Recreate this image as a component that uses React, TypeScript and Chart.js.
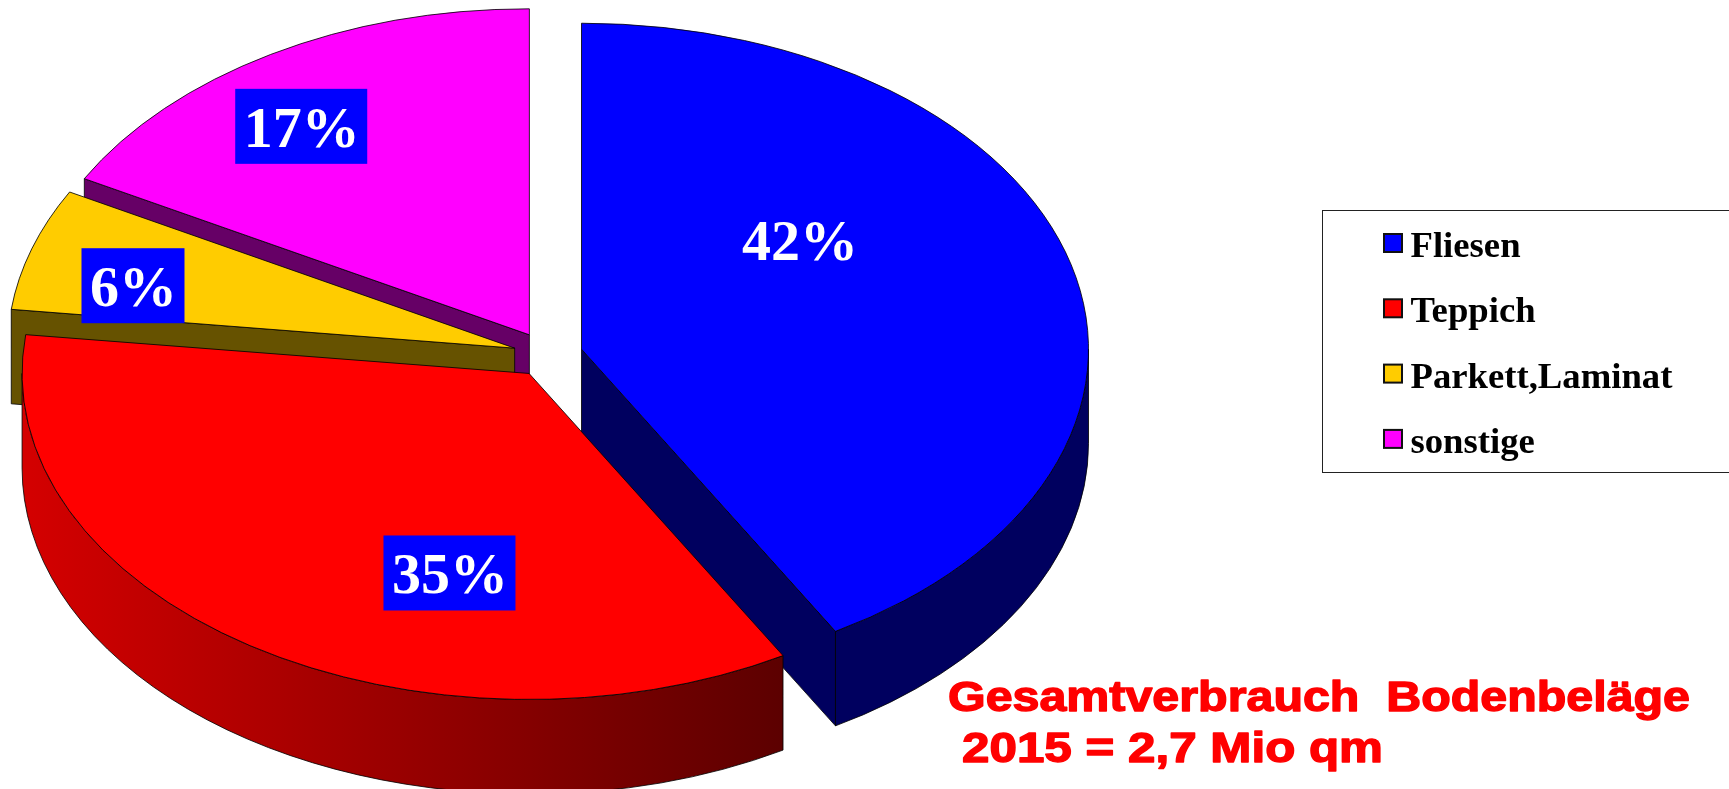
import React, { useEffect, useRef } from "react";
import { Chart, registerables } from "chart.js";

Chart.register(...registerables);

// ---- data ----
const categories = ["Fliesen", "Teppich", "Parkett,Laminat", "sonstige"];
const shares = [41.65, 35.25, 6.05, 17.05];

// ---- styling ----
const topColors = ["#0000ff", "#ff0000", "#ffcc00", "#ff00ff"];
const wallColors = ["#00005f", "#7a0000", "#665200", "#660066"];
const titleLines = ["Gesamtverbrauch  Bodenbeläge", "2015 = 2,7 Mio qm"];

const explode = [34.7, 34.4, 35, 36.5]; // distance of each slice from the pie centre
const labelSpots = [
  [0.43, -0.336],
  [-0.157, 0.612],
  [-0.7528, -0.1915],
  [-0.45, -0.6395],
];
const RADIUS = 507;
const SQUASH = 0.643;
const DEPTH = 94.5;
const WIDTH = 1729;
const HEIGHT = 789;
const paintOrder = [3, 2, 0, 1];
const SERIF = '"Liberation Serif", "Times New Roman", serif';
const SANS = '"Liberation Sans", Arial, sans-serif';

function sliceGeometry(chart: any, i: number) {
  const el = chart.getDatasetMeta(0).data[i];
  const { x, y, startAngle, endAngle, outerRadius } = el.getProps(
    ["x", "y", "startAngle", "endAngle", "outerRadius"],
    true
  );
  const mid = (startAngle + endAngle) / 2;
  const dx = Math.cos(mid) * explode[i];
  const dy = Math.sin(mid) * explode[i];
  return {
    el,
    x,
    y,
    dx,
    dy,
    startAngle,
    endAngle,
    r: outerRadius,
    sx: x + dx,
    sy: y + dy * SQUASH,
  };
}

// the part of [a0, a1] that lies on the front half of the rim (canvas angles 0..PI, modulo a turn)
function frontRim(a0: number, a1: number): [number, number] | null {
  const turn = Math.PI * 2;
  for (const k of [-1, 0, 1]) {
    const lo = Math.max(a0, k * turn);
    const hi = Math.min(a1, k * turn + Math.PI);
    if (hi > lo) return [lo, hi];
  }
  return null;
}

const pie3d = {
  id: "pie3d",
  beforeDatasetDraw() {
    return false; // the slices are painted below, in depth order
  },
  beforeDatasetsDraw(chart: any) {
    const ctx = chart.ctx as CanvasRenderingContext2D;
    const geos = shares.map((_, i) => sliceGeometry(chart, i));

    // side walls: only the faces turned to the viewer
    paintOrder.forEach((i) => {
      const g = geos[i];
      const ry = g.r * SQUASH;
      ctx.save();
      ctx.lineWidth = 1;
      ctx.strokeStyle = "rgba(0,0,0,0.8)";

      const face = (a: number) => {
        const px = g.sx + Math.cos(a) * g.r;
        const py = g.sy + Math.sin(a) * ry;
        ctx.beginPath();
        ctx.moveTo(g.sx, g.sy);
        ctx.lineTo(px, py);
        ctx.lineTo(px, py + DEPTH);
        ctx.lineTo(g.sx, g.sy + DEPTH);
        ctx.closePath();
        ctx.fillStyle = wallColors[i];
        ctx.fill();
        ctx.stroke();
      };
      if (Math.cos(g.startAngle) < -1e-6) face(g.startAngle);
      if (Math.cos(g.endAngle) > 1e-6) face(g.endAngle);

      const rim = frontRim(g.startAngle, g.endAngle);
      if (rim) {
        let wallFill: string | CanvasGradient = wallColors[i];
        if (i === 1) {
          const grad = ctx.createLinearGradient(25, 0, 783, 0);
          grad.addColorStop(0, "#d40000");
          grad.addColorStop(1, "#5c0000");
          wallFill = grad;
        }
        ctx.beginPath();
        ctx.ellipse(g.sx, g.sy, g.r, ry, 0, rim[0], rim[1]);
        ctx.ellipse(g.sx, g.sy + DEPTH, g.r, ry, 0, rim[1], rim[0], true);
        ctx.closePath();
        ctx.fillStyle = wallFill;
        ctx.fill();
        ctx.stroke();
      }
      ctx.restore();
    });

    // top faces, drawn by the library's own arc elements
    paintOrder.forEach((i) => {
      const g = geos[i];
      ctx.save();
      ctx.translate(0, g.y);
      ctx.scale(1, SQUASH);
      ctx.translate(g.dx, g.dy - g.y);
      g.el.draw(ctx);
      ctx.restore();
    });
  },
  afterDraw(chart: any) {
    const ctx = chart.ctx as CanvasRenderingContext2D;
    ctx.save();
    ctx.textBaseline = "alphabetic";
    ctx.textAlign = "left";

    // percentage labels
    ctx.font = `bold 58px ${SERIF}`;
    shares.forEach((v, i) => {
      const g = sliceGeometry(chart, i);
      const text = `${Math.round(v)}%`;
      const cx = g.sx + labelSpots[i][0] * g.r;
      const cy = g.sy + labelSpots[i][1] * g.r * SQUASH;
      const w = ctx.measureText(text).width + 16;
      ctx.fillStyle = "#0000ff";
      ctx.fillRect(cx - w / 2, cy - 37.5, w, 75);
      ctx.fillStyle = "#ffffff";
      ctx.fillText(text, cx - w / 2 + 8.5, cy + 20.5);
    });

    // legend
    ctx.strokeStyle = "#222222";
    ctx.lineWidth = 1;
    ctx.strokeRect(1322.5, 210.5, 420, 262);
    ctx.font = `bold 36.7px ${SERIF}`;
    categories.forEach((name, i) => {
      const top = 233 + i * 65.3;
      ctx.fillStyle = topColors[i];
      ctx.fillRect(1384, top + 1, 18, 18);
      ctx.lineWidth = 2;
      ctx.strokeStyle = "#111111";
      ctx.strokeRect(1384, top + 1, 18, 18);
      ctx.fillStyle = "#000000";
      ctx.fillText(name, 1410.5, top + 24);
    });

    // note: the reference lettering is stretched sideways and heavy
    ctx.fillStyle = "#ff0000";
    ctx.strokeStyle = "#ff0000";
    ctx.lineWidth = 1.4;
    ctx.lineJoin = "round";
    ctx.font = `bold 43px ${SANS}`;
    const note = (text: string, x: number, y: number, targetWidth: number) => {
      const s = targetWidth / ctx.measureText(text).width;
      ctx.save();
      ctx.translate(x, y);
      ctx.scale(s, 1);
      ctx.fillText(text, 0, 0);
      ctx.strokeText(text, 0, 0);
      ctx.restore();
    };
    note(titleLines[0], 948, 711, 742);
    note(titleLines[1], 962, 762, 421);
    ctx.restore();
  },
};

export default function App() {
  const ref = useRef<HTMLCanvasElement | null>(null);
  useEffect(() => {
    document.body.style.margin = "0";
    const chart = new Chart(ref.current as HTMLCanvasElement, {
      type: "pie",
      data: {
        labels: categories,
        datasets: [
          {
            data: shares,
            backgroundColor: topColors,
            borderColor: "#000000",
            borderWidth: 1,
            clip: false,
          } as any,
        ],
      },
      options: {
        animation: false,
        responsive: false,
        radius: RADIUS,
        layout: { padding: { right: WIDTH - 2 * 548, bottom: HEIGHT - 2 * 355 } },
        events: [],
        plugins: { legend: { display: false }, tooltip: { enabled: false }, title: { display: false } },
      } as any,
      plugins: [pie3d],
    });
    return () => chart.destroy();
  }, []);
  return <canvas ref={ref} width={WIDTH} height={HEIGHT} style={{ display: "block" }} />;
}
